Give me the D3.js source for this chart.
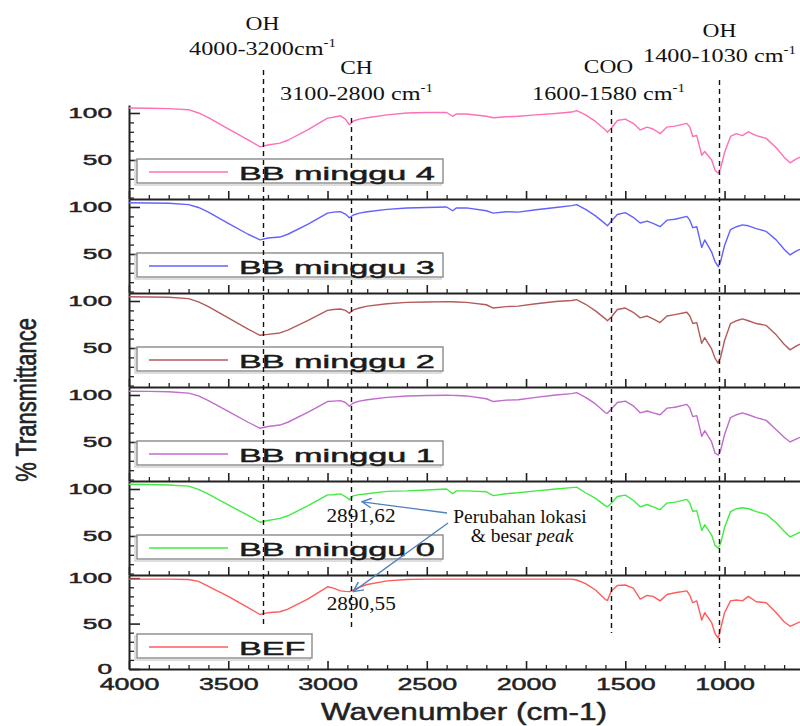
<!DOCTYPE html>
<html>
<head>
<meta charset="utf-8">
<script src="https://cdn.jsdelivr.net/npm/d3@7"></script>
<style>
  body { margin: 0; background: #fff; }
  svg { display: block; }
  .axis path, .axis line { stroke: #222; }
  .axis text, .sans { fill: #222; font-family: "Liberation Sans", Arial, sans-serif; stroke: #222; stroke-width: 0.45px; }
</style>
</head>
<body>
<svg width="800" height="726"></svg>
<script>

// wavenumber grid (cm-1) shared by all spectra
var wavenumbers = [4000, 3900, 3800, 3700, 3650, 3600, 3500, 3400, 3340, 3300,
  3240, 3200, 3100, 3000, 2970, 2935, 2910, 2890, 2870, 2840,
  2800, 2700, 2600, 2500, 2400, 2370, 2350, 2300, 2200, 2165,
  2100, 2040, 1950, 1850, 1770, 1745, 1700, 1650, 1600, 1590,
  1570, 1540, 1500, 1460, 1425, 1390, 1360, 1325, 1290, 1250,
  1190, 1175, 1160, 1140, 1115, 1100, 1065, 1048, 1032, 1020,
  1000, 970, 940, 910, 880, 840, 790, 740, 700, 670,
  640, 620];

var bbMinggu4 = [105.3, 105, 104.6, 103.5, 100, 95, 83, 71.5, 64, 66,
  68, 71, 82, 94.5, 95.5, 97, 93.5, 87.5, 91.5, 93.5,
  95, 98, 100, 100.5, 100.5, 96.5, 99, 99, 96.5, 95,
  96, 96.5, 98, 99.5, 101, 102.5, 98, 91, 82, 79.5,
  84, 92, 93.5, 89, 82, 85, 83, 78, 85, 86,
  89, 85, 75, 76, 55, 59, 50, 39, 36, 41,
  58, 75, 78, 76, 80, 76, 73, 63, 53, 47,
  51, 53];

var bbMinggu3 = [104.5, 104.3, 104, 102.5, 99.5, 94.5, 82.5, 71, 65, 67,
  68, 71, 81.5, 93.5, 94.5, 95, 92.5, 88.5, 91.5, 93.5,
  95, 97.5, 99, 99.5, 100, 96, 99, 99, 96, 93.5,
  95, 94.5, 97, 99.5, 101.5, 102.5, 97.5, 90.5, 82, 80,
  85, 92, 94, 89, 83, 85, 82.5, 79, 86, 87,
  90, 86, 78, 79, 57, 65, 52, 42, 36.5, 42,
  59, 76, 79, 81, 80, 77, 74, 65, 55, 49,
  53, 55];

var bbMinggu2 = [104.5, 104.3, 104, 102.5, 99, 94, 82, 70, 63.5, 64.5,
  66, 69, 79, 90, 91, 91.5, 90, 87, 90.5, 92.5,
  94.5, 97, 98.5, 99, 99.3, 99.2, 99, 98.5, 96, 92.5,
  94, 94.5, 97, 99.5, 100.5, 101.5, 96.5, 89.5, 81, 79,
  83, 91, 92.5, 88, 82, 84, 81, 77, 84, 85.5,
  88, 84, 76, 77, 55, 61, 49, 39, 34, 40,
  58, 76, 79, 81, 79, 76, 74, 64, 54, 48,
  52, 54];

var bbMinggu1 = [104, 103.8, 103.5, 102, 99, 94, 82.5, 71, 64.6, 66.5,
  68, 71, 81.5, 93, 93.5, 94, 92, 88, 91.5, 93.5,
  95, 97.5, 99, 99.5, 99.8, 99.6, 99.5, 99, 96, 93,
  94.5, 95, 97.5, 100, 101.5, 102.5, 97.5, 90.5, 81, 80.5,
  85, 92, 93.5, 88.5, 81, 83, 81, 79, 86, 87,
  90, 86, 77, 78, 56, 62, 50, 38, 36, 41,
  58, 76, 79, 81, 79, 76, 73, 63, 55, 50,
  53, 55];

var bbMinggu0 = [105, 104.8, 104.3, 103, 99.5, 94.5, 83, 72, 64.6, 66.5,
  68.7, 71.5, 82, 93.7, 93.8, 94.8, 92, 88.5, 92.7, 94,
  95, 97.5, 98, 99, 100, 95, 98, 98, 97, 93,
  95, 96, 98, 100, 101.5, 102, 96, 90, 82, 81,
  85, 92, 93.5, 88, 81, 83.5, 81, 78, 85, 86,
  89, 85, 76, 77, 56, 62, 51, 40, 37, 42,
  59, 76, 79, 80, 79, 76, 73, 64, 55, 49,
  52, 54];

var bef = [99, 99, 99, 98.5, 96.5, 91, 80, 67.5, 60, 62,
  63, 66, 77, 90.5, 89, 86, 85.5, 85.2, 87, 90,
  93, 97, 98.5, 99, 99, 99, 99, 99, 99, 99,
  99, 99, 99, 99, 99, 98, 94, 87, 76.5, 75.5,
  86, 92, 92.5, 89, 77, 81, 80, 75, 82, 84,
  86, 81, 73, 75, 54, 62, 51, 39, 34, 44,
  62, 75, 76, 75, 80, 74, 73, 62, 52, 47,
  50, 52];

var sampleNames = ["BB minggu 4", "BB minggu 3", "BB minggu 2", "BB minggu 1", "BB minggu 0", "BEF"];
var sampleValues = [bbMinggu4, bbMinggu3, bbMinggu2, bbMinggu1, bbMinggu0, bef];
var sampleColors = ["#ff6fb8", "#6262ff", "#b45a5a", "#c06ccc", "#44ea44", "#ff5c5c"];

var xMajorTicks = [4000, 3500, 3000, 2500, 2000, 1500, 1000];

// functional group bands marked with dashed lines
var bandGroups = ["OH", "CH", "COO", "OH"];
var bandRanges = ["4000-3200cm", "3100-2800 cm", "1600-1580 cm", "1400-1030 cm"];
var bandMarks = [3326, 2883, 1571, 1027];

var peakLabels = ["2891,62", "2890,55"];
var peakWavenumbers = [2891.62, 2890.55];

var svg = d3.select("svg");
var left = 129, right = 800, plotTop = 105, plotBottom = 669;

var x = d3.scaleLinear().domain([4000, 620]).range([left, right]);
var panel = d3.scaleBand().domain(d3.range(sampleNames.length)).range([plotTop, plotBottom]);
var ph = panel.bandwidth();

function widen(sel, k) {
  sel.each(function () {
    var w = this.getComputedTextLength();
    d3.select(this).attr("textLength", w * k).attr("lengthAdjust", "spacingAndGlyphs");
  });
}

var yScales = sampleNames.map(function (d, i) {
  var py = panel(i);
  var last = i === sampleNames.length - 1;
  return d3.scaleLinear().domain(last ? [0, 103.5] : [8.5, 108.5]).range([py + ph, py]);
});

var line = d3.line();

sampleNames.forEach(function (name, i) {
  var py = panel(i), y = yScales[i];
  var last = i === sampleNames.length - 1;
  var g = svg.append("g");

  // minor x ticks
  g.append("g").attr("class", "axis")
      .attr("transform", "translate(0," + (py + ph) + ")")
      .call(d3.axisBottom(x).tickValues(d3.range(3900, 600, -100).filter(function (v) { return v % 500; }))
        .tickSize(-4).tickSizeOuter(0).tickFormat(""))
      .call(function (a) { a.select(".domain").remove(); a.selectAll("line").attr("stroke-width", 1.3); });

  // major x ticks + panel floor
  var xa = g.append("g").attr("class", "axis")
      .attr("transform", "translate(0," + (py + ph) + ")")
      .call(d3.axisBottom(x).tickValues(xMajorTicks).tickSize(-8).tickSizeOuter(0)
        .tickPadding(9).tickFormat(last ? d3.format("d") : ""));
  xa.select(".domain").attr("stroke-width", 1.8);
  xa.selectAll("line").attr("stroke-width", 1.6);
  xa.selectAll("text").attr("font-size", 17);
  if (last) widen(xa.selectAll("text"), 1.58);

  // minor y ticks
  g.append("g").attr("class", "axis")
      .attr("transform", "translate(" + left + ",0)")
      .call(d3.axisLeft(y).tickValues(d3.range(10, 110, 10).filter(function (v) { return v % 50 && v > y.domain()[0]; }))
        .tickSize(-5).tickSizeOuter(0).tickFormat(""))
      .call(function (a) { a.select(".domain").remove(); a.selectAll("line").attr("stroke-width", 1.3); });

  // major y ticks and axis line
  var ya = g.append("g").attr("class", "axis")
      .attr("transform", "translate(" + left + ",0)")
      .call(d3.axisLeft(y).tickValues(last ? [0, 50, 100] : [50, 100])
        .tickSize(-11).tickSizeOuter(0).tickPadding(17).tickFormat(d3.format("d")));
  ya.select(".domain").attr("stroke-width", 2);
  ya.selectAll("line").attr("stroke-width", 1.6);
  ya.selectAll("text").attr("font-size", 15);
  widen(ya.selectAll("text"), 1.75);

  // spectrum
  var pts = wavenumbers.map(function (w, j) { return [x(w), y(sampleValues[i][j])]; });
  g.append("path")
      .attr("d", line(pts))
      .attr("fill", "none")
      .attr("stroke", sampleColors[i])
      .attr("stroke-width", 1.4)
      .attr("stroke-linejoin", "round");

  // legend box
  var ly = py + (last ? 59 : 54);
  var bw = last ? 175 : 306;
  g.append("rect").attr("x", 135).attr("y", ly + 2).attr("width", bw).attr("height", 24)
      .attr("fill", "none").attr("stroke", "#c8c8c8").attr("stroke-width", 1.2);
  g.append("rect").attr("x", 137).attr("y", ly).attr("width", bw).attr("height", 24)
      .attr("fill", "#fff").attr("stroke", "#8a8a8a").attr("stroke-width", 1.4);
  g.append("line").attr("x1", 149).attr("x2", 228).attr("y1", ly + 13).attr("y2", ly + 13)
      .attr("stroke", sampleColors[i]).attr("stroke-width", 1.4);
  var lt = g.append("text").attr("class", "sans").attr("x", 239).attr("y", ly + 21)
      .attr("font-size", 18).style("fill", "#1a1a1a").style("stroke", "#1a1a1a").text(name);
  widen(lt, 1.9);
});

// axis titles
svg.append("text").attr("class", "sans")
    .attr("transform", "translate(28,400) scale(1.3,1) rotate(-90)")
    .attr("text-anchor", "middle").attr("dominant-baseline", "middle")
    .attr("font-size", 22).text("% Transmittance");

var xt = svg.append("text").attr("class", "sans")
    .attr("x", 464).attr("y", 720).attr("text-anchor", "middle")
    .attr("font-size", 23).text("Wavenumber (cm-1)");
widen(xt, 1.37);

// dashed band markers and labels
var markTop = [70, 118, 110, 80], markBottom = [628, 630, 633, 648];
var groupBase = [30, 74, 73, 37], rangeBase = [55, 100, 100, 62], labelShift = [-1, 5, -3, 0];

bandMarks.forEach(function (w, i) {
  var mx = Math.round(x(w)) + 0.5;
  svg.append("line").attr("x1", mx).attr("x2", mx).attr("y1", markTop[i]).attr("y2", markBottom[i])
      .attr("stroke", "#111").attr("stroke-width", 1.4).attr("stroke-dasharray", "5,4");
  var cx = mx + labelShift[i];
  var t1 = svg.append("text").attr("x", cx).attr("y", groupBase[i]).attr("text-anchor", "middle")
      .attr("font-family", "Liberation Serif, Times New Roman, serif").attr("font-size", 19.5)
      .attr("fill", "#111").text(bandGroups[i]);
  widen(t1, 1.2);
  var t2 = svg.append("text").attr("x", cx).attr("y", rangeBase[i]).attr("text-anchor", "middle")
      .attr("font-family", "Liberation Serif, Times New Roman, serif").attr("font-size", 19.5)
      .attr("fill", "#111");
  t2.append("tspan").text(bandRanges[i]);
  t2.append("tspan").attr("font-size", 12).attr("dy", -8).text("-1");
  widen(t2, 1.24);
});

// peak shift annotation
var arrowColor = "#4f81bd";
svg.append("defs").append("marker")
    .attr("id", "tip").attr("viewBox", "0 -5 10 10").attr("refX", 9).attr("refY", 0)
    .attr("markerWidth", 11).attr("markerHeight", 11).attr("markerUnits", "userSpaceOnUse")
    .attr("orient", "auto")
  .append("path").attr("d", "M0,-4.5L9,0L0,4.5")
    .attr("fill", "none").attr("stroke", arrowColor).attr("stroke-width", 1.3);

var peakPanels = [4, 5];
var peakValues = [88.5, 85.2];
var peakDrop = [22, 18];
var tipShift = [[13, 2], [4, 0]];
var arrowFrom = [[447, 513], [448, 523]];

peakLabels.forEach(function (lbl, i) {
  var px = x(peakWavenumbers[i]);
  var py = yScales[peakPanels[i]](peakValues[i]);
  var t = svg.append("text").attr("x", px + 12).attr("y", py + peakDrop[i]).attr("text-anchor", "middle")
      .attr("font-family", "Liberation Serif, Times New Roman, serif").attr("font-size", 19)
      .attr("fill", "#111").text(lbl);
  widen(t, 1.12);
  svg.append("line")
      .attr("x1", arrowFrom[i][0]).attr("y1", arrowFrom[i][1])
      .attr("x2", px + tipShift[i][0]).attr("y2", py + tipShift[i][1])
      .attr("stroke", arrowColor).attr("stroke-width", 1.3)
      .attr("marker-end", "url(#tip)");
});

var n1 = svg.append("text").attr("x", 520).attr("y", 523).attr("text-anchor", "middle")
    .attr("font-family", "Liberation Serif, Times New Roman, serif").attr("font-size", 18)
    .attr("fill", "#111").text("Perubahan lokasi");
widen(n1, 1.08);
var n2 = svg.append("text").attr("x", 522).attr("y", 542).attr("text-anchor", "middle")
    .attr("font-family", "Liberation Serif, Times New Roman, serif").attr("font-size", 18)
    .attr("fill", "#111");
n2.append("tspan").text("& besar ");
n2.append("tspan").attr("font-style", "italic").text("peak");
widen(n2, 1.08);

</script>
</body>
</html>
